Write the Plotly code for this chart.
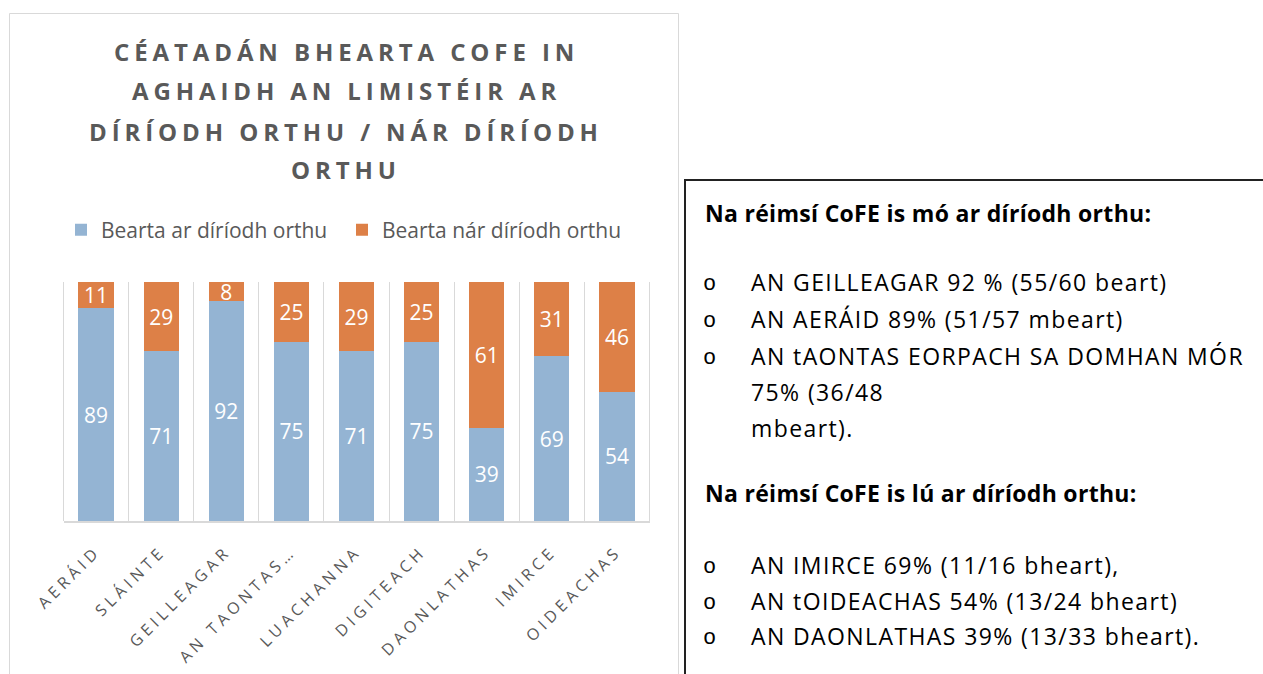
import plotly.graph_objects as go

categories = ["AERÁID", "SLÁINTE", "GEILLEAGAR", "AN TAONTAS…", "LUACHANNA",
              "DIGITEACH", "DAONLATHAS", "IMIRCE", "OIDEACHAS"]
targeted = [89, 71, 92, 75, 71, 75, 39, 69, 54]
not_targeted = [11, 29, 8, 25, 29, 25, 61, 31, 46]
series_names = ["Bearta ar díríodh orthu", "Bearta nár díríodh orthu"]
title_lines = ["CÉATADÁN BHEARTA COFE IN", "AGHAIDH AN LIMISTÉIR AR",
               "DÍRÍODH ORTHU / NÁR DÍRÍODH", "ORTHU"]
box_heading1 = "Na réimsí CoFE is mó ar díríodh orthu:"
box_heading2 = "Na réimsí CoFE is lú ar díríodh orthu:"
box_items1 = ["AN GEILLEAGAR 92 % (55/60 beart)", "AN AERÁID 89% (51/57 mbeart)",
              "AN tAONTAS EORPACH SA DOMHAN MÓR"]
box_cont = ["75% (36/48", "mbeart)."]
box_items2 = ["AN IMIRCE 69% (11/16 bheart),", "AN tOIDEACHAS 54% (13/24 bheart)",
              "AN DAONLATHAS 39% (13/33 bheart)."]

W, H = 1263, 674
FONT = "Open Sans"
GREY = "#595959"
BLUE = "#94B4D3"
ORANGE = "#DD8047"


def px(x):
    return x / W


def py(y):
    return 1 - y / H


def spaced(t, s):
    return f"<span style='letter-spacing:{s}px'>{t}</span>"


fig = go.Figure()
for vals, name, col in [(targeted, series_names[0], BLUE), (not_targeted, series_names[1], ORANGE)]:
    fig.add_trace(go.Bar(x=categories, y=vals, name=name, marker_color=col,
                         marker_line_width=0, text=vals, textposition="inside",
                         insidetextanchor="middle", textangle=0, constraintext="none",
                         textfont=dict(color="white", size=21, family=FONT)))

shapes = [
    dict(type="rect", xref="paper", yref="paper", x0=px(9.5), x1=px(678.5), y0=py(680), y1=py(13.5),
         line=dict(color="#d9d9d9", width=1), fillcolor="rgba(0,0,0,0)", layer="below"),
    dict(type="rect", xref="paper", yref="paper", x0=px(685), x1=px(1270), y0=py(680), y1=py(180),
         line=dict(color="#222222", width=2), fillcolor="rgba(0,0,0,0)"),
    dict(type="line", xref="paper", yref="paper", x0=px(63.5), x1=px(63.5), y0=py(521), y1=py(282),
         line=dict(color="#d9d9d9", width=1)),
    dict(type="line", xref="paper", yref="paper", x0=px(649.5), x1=px(649.5), y0=py(521), y1=py(282),
         line=dict(color="#d9d9d9", width=1)),
]

annotations = []
title_y = [51, 91, 131, 170]
for t, y in zip(title_lines, title_y):
    annotations.append(dict(text="<b>" + spaced(t, 4.9) + "</b>", x=px(346), y=py(y), xref="paper",
                            yref="paper", showarrow=False, xanchor="center", yanchor="middle",
                            font=dict(family=FONT, size=24, color=GREY)))


def box_text(t, x, y, bold=False, size=23, family=FONT, sp=0.0):
    body = spaced(t, sp) if sp else t
    annotations.append(dict(text=("<b>" + body + "</b>") if bold else body, x=px(x), y=py(y),
                            xref="paper", yref="paper", showarrow=False, xanchor="left",
                            yanchor="middle", font=dict(family=family, size=size, color="black")))


box_text(box_heading1, 703, 213, bold=True, sp=0.3)
for t, y in zip(box_items1, [282, 319, 356]):
    box_text("o", 701, y + 2, family="Liberation Mono", size=22)
    box_text(t, 749, y, sp=1.4)
for t, y in zip(box_cont, [392, 428]):
    box_text(t, 749, y, sp=1.4)
box_text(box_heading2, 703, 493, bold=True, sp=0.3)
for t, y in zip(box_items2, [565, 601, 636]):
    box_text("o", 701, y + 2, family="Liberation Mono", size=22)
    box_text(t, 749, y, sp=1.4)

fig.update_layout(
    width=W, height=H, margin=dict(l=0, r=0, t=0, b=0, autoexpand=False),
    paper_bgcolor="white", plot_bgcolor="white",
    barmode="stack", bargap=0.46,
    font=dict(family=FONT, color=GREY),
    showlegend=True,
    legend=dict(orientation="h", x=px(61), y=py(230), xanchor="left", yanchor="middle",
                font=dict(family=FONT, size=21, color=GREY), traceorder="normal",
                entrywidth=236, entrywidthmode="pixels", bgcolor="rgba(0,0,0,0)"),
    xaxis=dict(domain=[px(63.5), px(649.5)], type="category", tickson="boundaries",
               showgrid=True, gridcolor="#d9d9d9", gridwidth=1, showline=True,
               linecolor="#d9d9d9", linewidth=1.5, ticks="", tickangle=-45,
               tickmode="array", tickvals=categories, ticklabelstandoff=13,
               ticktext=[spaced(c, 4.3) for c in categories],
               tickfont=dict(family=FONT, size=16, color=GREY), fixedrange=True),
    yaxis=dict(domain=[py(521), py(282)], range=[0, 100], visible=False, fixedrange=True),
    shapes=shapes, annotations=annotations,
)

fig.write_html("out.html", config={"displayModeBar": False},
               post_script="document.body.style.margin='0';document.body.style.overflow='hidden';")
